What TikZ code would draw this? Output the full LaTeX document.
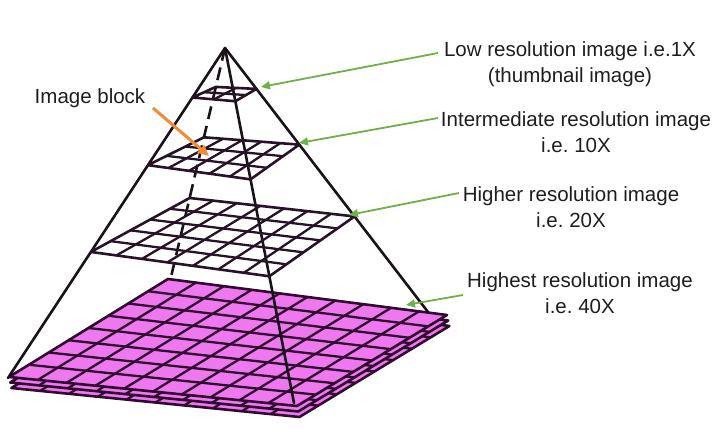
\documentclass[tikz,border=0pt]{standalone}
\usepackage{fontspec}
\setmainfont{Liberation Sans}
\usetikzlibrary{calc,arrows.meta}
\frenchspacing
\definecolor{pinkfill}{RGB}{238,120,238}
\definecolor{gridc}{RGB}{48,10,48}
\definecolor{wgridc}{RGB}{40,18,40}
\definecolor{edgec}{RGB}{25,18,25}
\definecolor{greenc}{RGB}{112,176,72}
\definecolor{orangec}{RGB}{240,140,52}
\definecolor{textc}{RGB}{30,30,30}
\tikzset{
  gridline/.style={draw=gridc,line width=2.3pt},
  layeredge/.style={draw=gridc,line width=2.6pt,line join=round},
  pyredge/.style={draw=edgec,line width=2.6pt,line cap=round},
  backedge/.style={draw=edgec,line width=2.6pt,dash pattern=on 13pt off 7pt},
  greenarrow/.style={draw=greenc,line width=1.8pt,-{Triangle[length=9pt,width=8pt]}},
  orangearrow/.style={draw=orangec,line width=3pt,-{Triangle[length=11pt,width=10pt]}},
  label/.style={text=textc,font=\fontsize{20.5}{26}\selectfont,align=center,inner sep=0pt}
}
\newcommand{\quadgrid}[6]{%
  \pgfmathtruncatemacro\qgn{#5-1}%
  \pgfmathtruncatemacro\qgm{#6-1}%
  \foreach \i in {1,...,\qgn}{\draw[gridline] ($(#1)!{\i/#5}!(#4)$) -- ($(#2)!{\i/#5}!(#3)$);}%
  \foreach \j in {1,...,\qgm}{\draw[gridline] ($(#1)!{\j/#6}!(#2)$) -- ($(#4)!{\j/#6}!(#3)$);}%
  \draw[layeredge] (#1)--(#2)--(#3)--(#4)--cycle;%
}
\begin{document}
\begin{tikzpicture}[x=1pt,y=-1pt]
\useasboundingbox (0,0) rectangle (720,430);
% pyramid apex and base corners
\coordinate (A) at (225,48);
\coordinate (PL) at (8,378);
\coordinate (PB) at (171,277);
\coordinate (PR) at (428,312);
\coordinate (PF) at (294,403);
% pink stacked base layers
\coordinate (KL) at (9,377);
\coordinate (KB) at (168,279);
\coordinate (KR) at (447,315);
\coordinate (KF) at (297,406);
\foreach \k in {2,1,0}{
  \coordinate (qL) at ($(KL)+(\k*1.2,\k*5.5)$);
  \coordinate (qB) at ($(KB)+(\k*1.2,\k*5.5)$);
  \coordinate (qR) at ($(KR)+(\k*1.2,\k*5.5)$);
  \coordinate (qF) at ($(KF)+(\k*1.2,\k*5.5)$);
  \fill[pinkfill] (qL)--(qB)--(qR)--(qF)--cycle;
  \quadgrid{qL}{qB}{qR}{qF}{10}{8}
}
% pyramid edges
\draw[backedge] (A) -- (PB);
\draw[pyredge] (A) -- (PL);
\draw[pyredge] (A) -- (PF);
\draw[pyredge] (A) -- (PR);
% white layers
\begin{scope}[gridline/.append style={draw=wgridc},layeredge/.append style={draw=wgridc}]
% layer 3
\coordinate (c3L) at ($(A)!0.618!(PL)$);
\coordinate (c3B) at ($(A)!0.655!(PB)$);
\coordinate (c3R) at ($(A)!0.638!(PR)$);
\coordinate (c3F) at ($(A)!0.643!(PF)$);
\quadgrid{c3L}{c3B}{c3R}{c3F}{7}{5}
% layer 2
\coordinate (c2L) at ($(A)!0.355!(PL)$);
\coordinate (c2B) at ($(A)!0.39!(PB)$);
\coordinate (c2R) at ($(A)!0.366!(PR)$);
\coordinate (c2F) at ($(A)!0.37!(PF)$);
\quadgrid{c2L}{c2B}{c2R}{c2F}{5}{3}
% layer 1
\coordinate (c1L) at ($(A)!0.15!(PL)$);
\coordinate (c1B) at ($(A)!0.17!(PB)$);
\coordinate (c1R) at ($(A)!0.155!(PR)$);
\coordinate (c1F) at ($(A)!0.15!(PF)$);
\quadgrid{c1L}{c1B}{c1R}{c1F}{2}{2}
\end{scope}
% labels
\node[label] (t1) at (570,64) {Low resolution image i.e.1X\\(thumbnail image)};
\node[label] (t2) at (576,132.5) {Intermediate resolution image\\i.e. 10X};
\node[label] (t3) at (571,207.5) {Higher resolution image\\i.e. 20X};
\node[label] (t4) at (580,293.5) {Highest resolution image\\i.e. 40X};
\node[label] (tb) at (90,98) {Image block};
% arrows
\coordinate (g1s) at (438,53);
\coordinate (g1e) at (261,87);
\coordinate (g2s) at (438,118);
\coordinate (g2e) at (299,143);
\coordinate (g3s) at (459,193);
\coordinate (g3e) at (349,215);
\coordinate (g4s) at (463,295);
\coordinate (g4e) at (406,305);
\draw[greenarrow] (g1s) -- (g1e);
\draw[greenarrow] (g2s) -- (g2e);
\draw[greenarrow] (g3s) -- (g3e);
\draw[greenarrow] (g4s) -- (g4e);
\coordinate (os) at (153,108);
\coordinate (oe) at (209,156);
\draw[orangearrow] (os) -- (oe);
\end{tikzpicture}
\end{document}
